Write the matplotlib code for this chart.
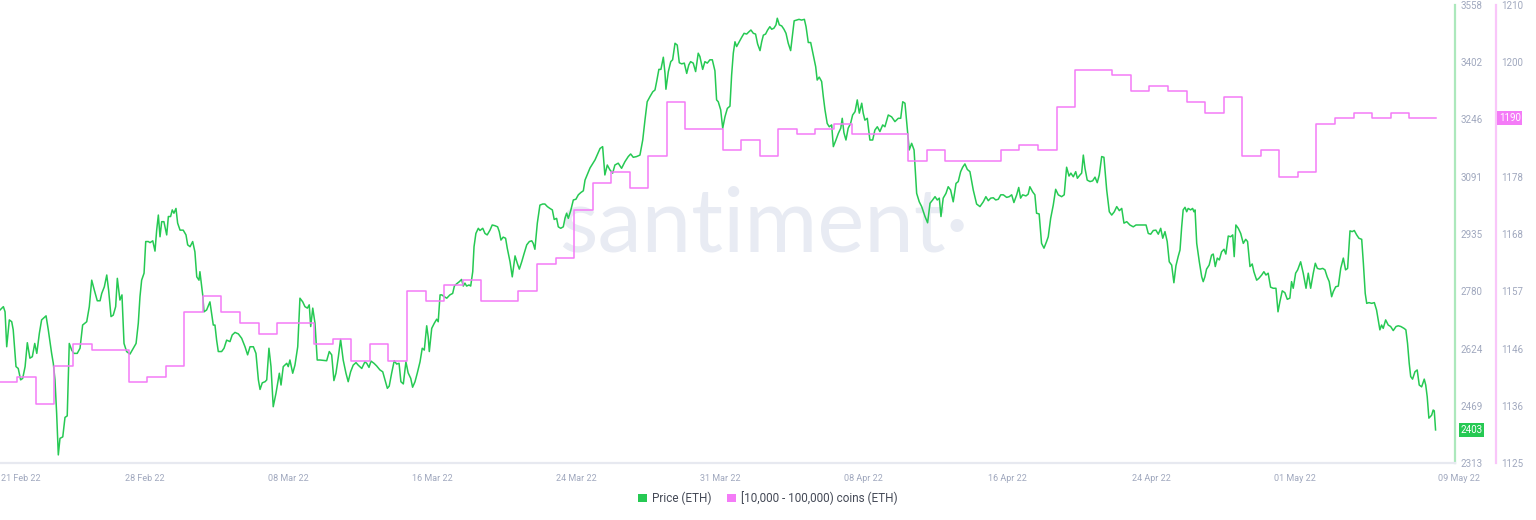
import numpy as np
import matplotlib
matplotlib.use('Agg')
import matplotlib.pyplot as plt
from matplotlib.patches import Patch
from matplotlib.transforms import blended_transform_factory

plt.rcParams['font.family'] = ['Roboto', 'DejaVu Sans']

# ETH price, x in days since 21 Feb 2022 00:00
price_day = [
    0.07, 0.25, 0.34, 0.43, 0.57, 0.70, 0.78, 0.93, 1.05, 1.18,
    1.29, 1.42, 1.54, 1.68, 1.81, 1.94, 2.05, 2.19, 2.31, 2.55,
    2.67, 2.85, 2.94, 3.03, 3.12, 3.21, 3.30, 3.45, 3.57, 3.69,
    3.80, 3.93, 4.05, 4.23, 4.38, 4.52, 4.74, 4.88, 5.01, 5.15,
    5.31, 5.46, 5.55, 5.69, 5.82, 5.92, 6.05, 6.17, 6.30, 6.39,
    6.53, 6.64, 6.75, 6.89, 7.07, 7.25, 7.40, 7.52, 7.61, 7.70,
    7.83, 7.92, 8.06, 8.15, 8.30, 8.42, 8.51, 8.60, 8.69, 8.78,
    8.90, 9.05, 9.14, 9.26, 9.35, 9.44, 9.55, 9.64, 9.77, 9.94,
    10.09, 10.18, 10.31, 10.45, 10.57, 10.67, 10.79, 10.84, 10.99, 11.06,
    11.20, 11.38, 11.56, 11.65, 11.74, 11.83, 12.01, 12.14, 12.28, 12.46,
    12.58, 12.73, 12.91, 13.09, 13.27, 13.41, 13.54, 13.72, 13.86, 13.99,
    14.08, 14.20, 14.35, 14.44, 14.56, 14.67, 14.79, 14.94, 15.03, 15.12,
    15.21, 15.33, 15.52, 15.60, 15.69, 15.84, 15.96, 16.11,
    16.23, 16.38, 16.50, 16.63, 16.73, 16.81, 16.92, 17.04, 17.16, 17.31,
    17.67, 17.81, 17.94, 18.06, 18.17, 18.30, 18.42, 18.56, 18.71, 18.83,
    18.96, 19.10, 19.25, 19.37, 19.56, 19.73, 19.83, 19.95, 20.06, 20.22,
    20.36, 20.54, 20.69, 20.81, 20.94, 21.04, 21.17, 21.31, 21.44, 21.57,
    21.67, 21.80, 21.94, 22.06, 22.20, 22.30, 22.43, 22.55, 22.70, 22.82,
    22.93, 23.06, 23.14, 23.20, 23.33, 23.47, 23.60, 23.68, 23.78, 23.87,
    24.01, 24.14, 24.31, 24.46, 24.55, 24.67, 24.82, 24.94, 25.03, 25.12,
    25.21, 25.34, 25.43, 25.54, 25.61, 25.71, 25.84, 25.93, 26.08, 26.20,
    26.32, 26.47, 26.59, 26.74, 26.88, 26.97, 27.06, 27.18, 27.31, 27.40,
    27.55, 27.67, 27.82, 27.94, 28.05, 28.18, 28.30, 28.45, 28.59, 28.72,
    28.80, 28.89, 29.02, 29.16, 29.31, 29.43, 29.56, 29.70, 29.83, 29.93,
    30.06, 30.15, 30.28, 30.42, 30.51, 30.60, 30.69, 30.82, 30.96, 31.10,
    31.23, 31.36, 31.50, 31.59, 31.86, 32.13,
    32.40, 32.54, 32.66, 32.79, 32.93, 33.08, 33.20, 33.38, 33.56, 33.74,
    33.92, 34.05, 34.19, 34.37, 34.55, 34.70, 34.82, 34.94, 35.09, 35.24,
    35.36, 35.45, 35.57, 35.68, 35.81, 35.90, 35.95, 36.08, 36.21, 36.31,
    36.44, 36.56, 36.67, 36.80, 36.94, 37.07, 37.18, 37.28, 37.42, 37.55,
    37.69, 37.78, 37.93, 38.05, 38.18, 38.32, 38.45, 38.59, 38.68, 38.77,
    38.90, 39.01, 39.13, 39.26, 39.40, 39.49, 39.58, 39.67, 39.76, 39.90,
    40.03, 40.16, 40.30, 40.42, 40.53, 40.66, 40.78, 40.89, 41.02, 41.11,
    41.20, 41.32, 41.43, 41.55, 41.65, 41.77, 41.88, 41.95, 42.06, 42.19,
    42.31, 42.42, 42.54, 42.67, 42.78, 42.86, 42.99, 43.12, 43.26, 43.41,
    43.50, 43.62, 43.75, 43.89, 44.02, 44.10, 44.21, 44.34, 44.43, 44.52,
    44.64, 44.75, 44.88, 44.97, 45.11, 45.24, 45.37, 45.45, 45.54, 45.65,
    45.77, 45.90, 46.01, 46.14, 46.26, 46.37, 46.50, 46.58, 46.67, 46.80,
    46.94, 47.09, 47.21, 47.34,
    47.48, 47.63, 47.75, 47.93, 48.11, 48.29, 48.47, 48.60, 48.71, 48.83,
    48.96, 49.06, 49.19, 49.32, 49.46, 49.60, 49.73, 49.91, 50.05, 50.18,
    50.32, 50.45, 50.57, 50.68, 50.77, 50.89, 51.04, 51.16, 51.29, 51.43,
    51.58, 51.70, 51.83, 51.94, 52.06, 52.19, 52.33, 52.51, 52.69, 52.87,
    53.05, 53.19, 53.32, 53.45, 53.59, 53.72, 53.86, 53.99, 54.13, 54.31,
    54.45, 54.58, 54.70, 54.85, 54.96, 55.06, 55.17, 55.35, 55.47, 55.56,
    55.71, 55.83, 55.92, 56.06, 56.19, 56.32, 56.46, 56.55, 56.68, 56.82,
    56.95, 57.09, 57.27, 57.41, 57.54, 57.67, 57.77, 57.90, 58.03, 58.12,
    58.26, 58.35, 58.44, 58.53, 58.65, 58.80, 58.94, 59.07, 59.19, 59.30,
    59.43, 59.55, 59.70, 59.84, 59.97, 60.11, 60.24, 60.38, 60.51, 60.63,
    60.78, 60.95, 61.13, 61.28, 61.40, 61.58, 61.82, 61.94, 62.07, 62.21,
    62.35, 62.48, 62.61, 62.72, 62.84, 62.96, 63.07, 63.20, 63.32, 63.43,
    63.55,
    63.65, 63.74, 63.82, 63.92, 64.01, 64.09, 64.22, 64.33, 64.40, 64.46,
    64.55, 64.69, 64.82, 64.90, 64.99, 65.08, 65.22, 65.35, 65.44, 65.55,
    65.66, 65.77, 65.89, 66.02, 66.12, 66.25, 66.38, 66.49, 66.57, 66.66,
    66.79, 66.92, 67.06, 67.19, 67.29, 67.42, 67.54, 67.63, 67.78, 67.90,
    68.05, 68.17, 68.28, 68.40, 68.53, 68.67, 68.82, 68.93, 69.03, 69.16,
    69.30, 69.43, 69.57, 69.66, 69.75, 69.88, 69.99, 70.15, 70.29, 70.44,
    70.56, 70.69, 70.83, 70.94, 71.05, 71.19, 71.34, 71.46, 71.58, 71.69,
    71.82, 71.91, 72.04, 72.18, 72.31, 72.45, 72.57, 72.68, 72.81, 72.93,
    73.04, 73.17, 73.29, 73.44, 73.53, 73.63, 73.71, 73.83, 73.98, 74.12,
    74.24, 74.33, 74.42, 74.51, 74.60, 74.73, 74.87, 75.00, 75.14, 75.29,
    75.41, 75.55, 75.72, 75.82, 75.91, 76.00, 76.08, 76.18, 76.31, 76.43,
    76.54, 76.67, 76.81, 76.89, 76.97, 77.06, 77.21, 77.29, 77.35, 77.42,
]

price_usd = [
    2729, 2738, 2724, 2629, 2702, 2697, 2675, 2575, 2570, 2539,
    2543, 2575, 2640, 2598, 2602, 2638, 2611, 2666, 2702, 2713,
    2675, 2611, 2584, 2539, 2448, 2335, 2380, 2384, 2437, 2441,
    2638, 2620, 2611, 2611, 2625, 2688, 2697, 2738, 2810, 2783,
    2754, 2754, 2774, 2792, 2824, 2783, 2711, 2715, 2738, 2815,
    2756, 2770, 2638, 2616, 2609, 2625, 2638, 2693, 2765, 2810,
    2829, 2915, 2915, 2912, 2917, 2889, 2946, 2987, 2928, 2969,
    2969, 2933, 2983, 2983, 3001, 2992, 3005, 2965, 2946, 2946,
    2933, 2906, 2901, 2915, 2887, 2819, 2810, 2833, 2770, 2724,
    2729, 2751, 2688, 2688, 2647, 2616, 2616, 2625, 2647, 2643,
    2661, 2668, 2664, 2652, 2629, 2607, 2629, 2629, 2611, 2539,
    2513, 2531, 2534, 2539, 2625, 2575, 2466, 2503, 2530, 2557,
    2525, 2575, 2584, 2575, 2593, 2557, 2579, 2629,
    2761, 2751, 2738, 2734, 2743, 2684, 2734, 2693, 2593, 2593,
    2591, 2616, 2607, 2537, 2557, 2602, 2649, 2593, 2557, 2534,
    2561, 2579, 2586, 2579, 2570, 2588, 2584, 2573, 2590, 2584,
    2577, 2566, 2561, 2539, 2516, 2522, 2557, 2591, 2582, 2584,
    2534, 2528, 2588, 2558, 2543, 2519, 2534, 2557, 2588, 2625,
    2620, 2686, 2656, 2616, 2679, 2693, 2704, 2697, 2770, 2770,
    2765, 2761, 2770, 2774, 2794, 2800, 2806, 2812, 2794, 2802,
    2794, 2797, 2794, 2833, 2901, 2937, 2951, 2945, 2951, 2937,
    2933, 2946, 2960, 2958, 2955, 2942, 2919, 2927, 2924, 2897,
    2860, 2819, 2876, 2856, 2840, 2860, 2881, 2906, 2915, 2917,
    2910, 2894, 2965, 3014, 3017, 3017, 3010, 3005, 3001, 2975,
    2978, 2955, 2951, 2955, 2978, 2992, 2978, 2999, 3028, 3030,
    3042, 3048, 3053, 3082, 3115, 3137,
    3168, 3173, 3096, 3123, 3110, 3101, 3123, 3128, 3114, 3132,
    3146, 3153, 3144, 3146, 3150, 3191, 3245, 3295, 3309, 3322,
    3327, 3350, 3383, 3383, 3416, 3372, 3329, 3377, 3404, 3409,
    3454, 3449, 3401, 3398, 3400, 3372, 3395, 3404, 3400, 3377,
    3427, 3418, 3383, 3404, 3400, 3409, 3409, 3379, 3300, 3295,
    3273, 3223, 3254, 3277, 3283, 3368, 3427, 3458, 3445, 3458,
    3470, 3481, 3479, 3485, 3490, 3481, 3479, 3452, 3434, 3458,
    3476, 3479, 3490, 3499, 3492, 3495, 3504, 3522, 3504, 3501,
    3492, 3481, 3454, 3434, 3481, 3515, 3517, 3519, 3517, 3519,
    3499, 3456, 3456, 3422, 3390, 3354, 3362, 3350, 3309, 3273,
    3236, 3227, 3232, 3173, 3191, 3209, 3223, 3250, 3211, 3191,
    3223, 3236, 3259, 3268, 3300, 3264, 3291, 3264, 3245, 3250,
    3191, 3191, 3218, 3227,
    3214, 3232, 3227, 3259, 3254, 3241, 3250, 3250, 3295, 3291,
    3218, 3164, 3182, 3164, 3046, 3023, 3010, 2983, 2966, 3019,
    3028, 3037, 3028, 3033, 2983, 3033, 3046, 3064, 3055, 3023,
    3073, 3078, 3105, 3117, 3126, 3111, 3105, 3055, 3017, 3010,
    3023, 3037, 3026, 3033, 3034, 3028, 3030, 3042, 3042, 3035,
    3037, 3042, 3021, 3042, 3062, 3033, 3042, 3039, 3044, 3064,
    3050, 3042, 2992, 2990, 2910, 2897, 2915, 2928, 2978, 3014,
    3057, 3042, 3037, 3042, 3117, 3093, 3101, 3091, 3105, 3087,
    3096, 3101, 3150, 3114, 3082, 3078, 3080, 3090, 3075, 3096,
    3146, 3144, 3055, 2996, 2987, 2996, 3010, 2999, 3005, 2965,
    2969, 2960, 2955, 2960, 2960, 2960, 2960, 2937, 2935, 2945,
    2946, 2935, 2951, 2924, 2942, 2915, 2860, 2851, 2803, 2849,
    2874,
    2892, 2955, 3001, 3008, 2996, 3005, 3001, 3005, 2996, 3001,
    2910, 2860, 2819, 2806, 2819, 2840, 2851, 2878, 2881, 2847,
    2870, 2865, 2887, 2894, 2881, 2930, 2928, 2933, 2874, 2960,
    2951, 2937, 2910, 2921, 2915, 2847, 2854, 2833, 2810, 2815,
    2824, 2833, 2824, 2829, 2791, 2788, 2788, 2724, 2751, 2781,
    2776, 2758, 2761, 2806, 2788, 2829, 2838, 2860, 2829, 2788,
    2829, 2788, 2829, 2856, 2842, 2840, 2842, 2838, 2819, 2806,
    2765, 2779, 2792, 2794, 2842, 2870, 2838, 2842, 2944, 2942,
    2945, 2933, 2924, 2921, 2856, 2774, 2747, 2749, 2747, 2749,
    2729, 2702, 2675, 2688, 2679, 2702, 2688, 2684, 2673, 2684,
    2686, 2684, 2679, 2675, 2638, 2584, 2548, 2541, 2561, 2566,
    2525, 2520, 2541, 2525, 2493, 2435, 2443, 2457, 2455, 2403,
]

# addresses holding [10,000 - 100,000) ETH, one value per day from 21 Feb
holders = [
    1141, 1142, 1137, 1144, 1148, 1147, 1147, 1141, 1142, 1144,
    1154, 1157, 1154, 1152, 1150, 1152, 1152, 1148, 1149, 1145,
    1148, 1145, 1158, 1156, 1159, 1160, 1156, 1156, 1158, 1163,
    1164, 1173, 1178, 1180, 1177, 1183, 1193, 1188, 1188, 1184,
    1186, 1183, 1188, 1187, 1188, 1189, 1187, 1187, 1187, 1182,
    1184, 1182, 1182, 1182, 1184, 1185, 1184, 1192, 1199, 1199,
    1198, 1195, 1196, 1195, 1193, 1191, 1194, 1183, 1184, 1179,
    1180, 1189, 1190, 1191, 1190, 1191, 1190, 1190,
]

date_labels = ["21 Feb 22", "28 Feb 22", "08 Mar 22", "16 Mar 22", "24 Mar 22",
               "31 Mar 22", "08 Apr 22", "16 Apr 22", "24 Apr 22", "01 May 22",
               "09 May 22"]
price_tick_labels = ["2313", "2469", "2624", "2780", "2935", "3091", "3246", "3402", "3558"]
holder_tick_labels = ["1125", "1136", "1146", "1157", "1168", "1178", "", "1200", "1210"]

GREEN = '#26c953'
PINK = '#f47bf7'
TICK = '#a0a8be'

fig = plt.figure(figsize=(15.36, 5.2), dpi=100)
ax = fig.add_axes([0, 0.1096, 0.9473, 0.8808])
ax2 = ax.twinx()

ax.plot(price_day, price_usd, color=GREEN, lw=1.1, zorder=3)

hx = np.append(np.arange(len(holders)), price_day[-1])
hy = np.append(holders, holders[-1])
ax2.step(hx, hy, where='post', color=PINK, lw=1.1)

ax.set_xlim(0.068, 78.47)
ax.set_ylim(2313, 3558)
ax2.set_ylim(1126, 1211)

# x ticks
ax.set_xticks(np.linspace(0.14, 77.57, len(date_labels)))
ax.set_xticklabels(date_labels)
xl = ax.get_xticklabels()
xl[0].set_ha('left')
xl[-1].set_ha('left')
ax.tick_params(axis='x', length=0, pad=8, labelsize=6.5, labelcolor=TICK)

# price axis
ax.yaxis.tick_right()
ax.set_yticks(np.linspace(2313, 3558, len(price_tick_labels)))
ax.set_yticklabels(price_tick_labels)
ax.tick_params(axis='y', length=0, pad=4, labelsize=7, labelcolor=TICK)

# holders axis
ax2.set_yticks(np.linspace(1126, 1211, len(holder_tick_labels)))
ax2.set_yticklabels(holder_tick_labels)
ax2.tick_params(axis='y', length=0, pad=3.5, labelsize=7, labelcolor=TICK)
ax2.spines['right'].set_position(('outward', 29.5))

for s in ['top', 'left']:
    ax.spines[s].set_visible(False)
for s in ['top', 'left', 'bottom']:
    ax2.spines[s].set_visible(False)
ax.spines['bottom'].set_color('#e7e9f0')
ax.spines['bottom'].set_linewidth(1.6)
ax.spines['right'].set_color('#ace8bc')
ax.spines['right'].set_linewidth(1.6)
ax2.spines['right'].set_color('#f9c6f9')
ax2.spines['right'].set_linewidth(1.6)

# last value badges
tr = blended_transform_factory(ax.transAxes, ax.transData)
ax.annotate(str(price_usd[-1]), xy=(1, price_usd[-1]), xycoords=tr,
            xytext=(3.8, 0), textcoords='offset points', ha='left', va='center',
            fontsize=7, color='white', annotation_clip=False,
            bbox=dict(boxstyle='square,pad=0.18', fc=GREEN, ec='none'))
tr2 = blended_transform_factory(ax2.transAxes, ax2.transData)
ax2.annotate(str(holders[-1]), xy=(1, holders[-1]), xycoords=tr2,
             xytext=(31.5, 0), textcoords='offset points', ha='left', va='center',
             fontsize=7, color='white', annotation_clip=False,
             bbox=dict(boxstyle='square,pad=0.18', fc=PINK, ec='none'))

# watermark
ax.text(0.497, 0.5155, 'santiment\u00b7', transform=fig.transFigure,
        ha='center', va='baseline', fontsize=64, color='#e8ebf3',
        family=['Lato', 'DejaVu Sans'], zorder=0)

handles = [Patch(fc=GREEN, ec='none'), Patch(fc=PINK, ec='none')]
fig.legend(handles, ['Price (ETH)', '[10,000 - 100,000) coins (ETH)'],
           loc='center', bbox_to_anchor=(0.5, 0.042), ncol=2, frameon=False,
           fontsize=8.5, handlelength=0.75, handleheight=0.75, handletextpad=0.45,
           columnspacing=1.3, labelcolor='#454a57')

fig.savefig('out.png', dpi=100)
